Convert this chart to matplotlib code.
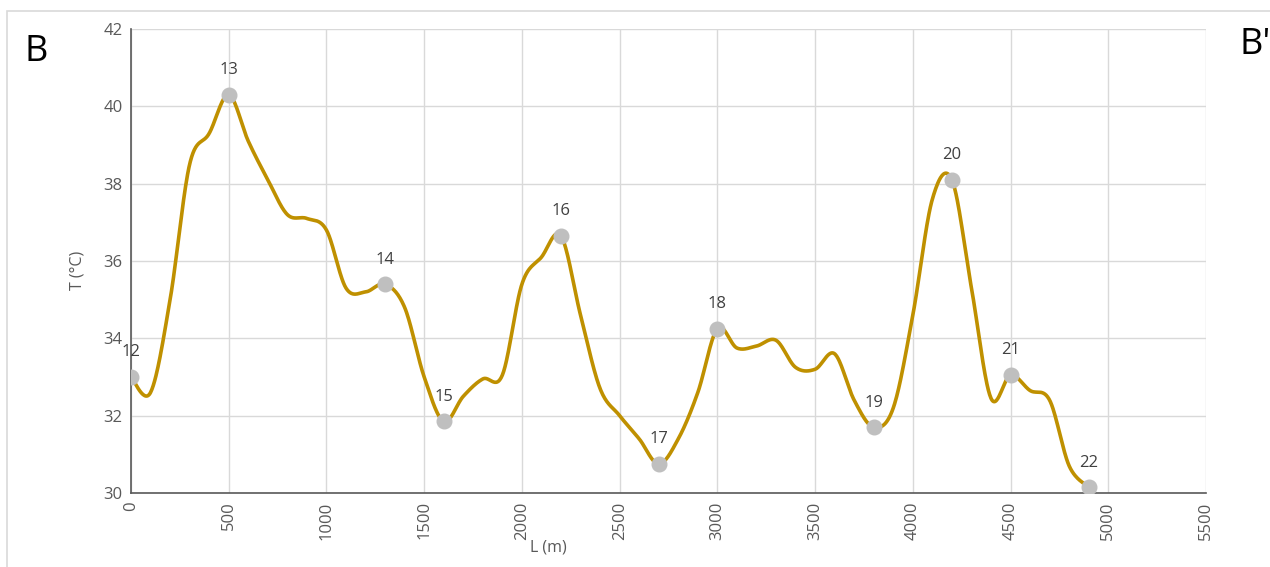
import numpy as np
import matplotlib
matplotlib.use("Agg")
import matplotlib.pyplot as plt
from matplotlib.patches import Rectangle

# distance along the profile (m) and temperature (deg C), one reading every 100 m
distance = list(range(0, 5000, 100))
temperature = [33.0, 32.6, 35.0, 38.5, 39.3, 40.3, 39.1, 38.1, 37.2, 37.1,
               36.8, 35.3, 35.2, 35.4, 34.8, 33.0, 31.85, 32.5, 32.95, 33.05,
               35.4, 36.1, 36.65, 34.6, 32.7, 32.0, 31.4, 30.75, 31.4, 32.6,
               34.25, 33.75, 33.8, 33.95, 33.25, 33.2, 33.6, 32.4, 31.7, 32.2,
               34.6, 37.6, 38.1, 35.3, 32.45, 33.05, 32.65, 32.4, 30.7, 30.15]

# sampling stations shown as markers
station_x = [0, 500, 1300, 1600, 2200, 2700, 3000, 3800, 4200, 4500, 4900]
station_id = ["12", "13", "14", "15", "16", "17", "18", "19", "20", "21", "22"]

x_ticks = list(range(0, 5501, 500))
y_ticks = list(range(30, 43, 2))

LINE = "#BF9000"
MARK = "#BFBFBF"
TXT = "#595959"


def smooth(xs, ys, n=30):
    """Excel-like smoothed line: cubic Bezier with Catmull-Rom control points."""
    xs = np.asarray(xs, float)
    ys = np.asarray(ys, float)
    px = np.concatenate([[xs[0]], xs, [xs[-1]]])
    py = np.concatenate([[ys[0]], ys, [ys[-1]]])
    t = np.linspace(0, 1, n)[:, None]
    outx, outy = [], []
    for i in range(1, len(px) - 2):
        p0 = np.array([px[i], py[i]])
        p3 = np.array([px[i + 1], py[i + 1]])
        p1 = p0 + (np.array([px[i + 1], py[i + 1]]) - np.array([px[i - 1], py[i - 1]])) / 6
        p2 = p3 - (np.array([px[i + 2], py[i + 2]]) - p0) / 6
        b = ((1 - t) ** 3) * p0 + 3 * ((1 - t) ** 2) * t * p1 + 3 * (1 - t) * t ** 2 * p2 + t ** 3 * p3
        outx.append(b[:, 0])
        outy.append(b[:, 1])
    return np.concatenate(outx), np.concatenate(outy)


plt.rcParams["font.family"] = ["Open Sans", "DejaVu Sans"]

fig = plt.figure(figsize=(12.7, 5.67), dpi=100)
ax = fig.add_axes([131 / 1270, 1 - 493 / 567, (1206 - 131) / 1270, (493 - 29) / 567])

# outer chart border
fig.patches.append(Rectangle((7 / 1270, -0.01), 1.1, 1 - 11 / 567 + 0.01,
                             transform=fig.transFigure, fill=False,
                             edgecolor="#D9D9D9", lw=1.2))

sx, sy = smooth(distance, temperature)
ax.plot(sx, sy, color=LINE, lw=2.6, zorder=3, solid_capstyle="round")

temp_at = dict(zip(distance, temperature))
for xv, lab in zip(station_x, station_id):
    yv = temp_at[xv]
    ax.plot(xv, yv, "o", ms=10.5, color=MARK, zorder=4)
    ax.annotate(lab, (xv, yv), textcoords="offset points", xytext=(0, 12),
                ha="center", va="bottom", fontsize=12, color="#404040")

ax.set_xlim(0, 5500)
ax.set_ylim(30, 42)
ax.set_xticks(x_ticks)
ax.set_yticks(y_ticks)
ax.set_xticklabels([str(v) for v in x_ticks], rotation=90)
ax.tick_params(length=0, labelsize=12, labelcolor=TXT, pad=6)
ax.grid(True, color="#D9D9D9", lw=1)
ax.set_axisbelow(True)
for s in ["top", "right"]:
    ax.spines[s].set_visible(False)
for s in ["left", "bottom"]:
    ax.spines[s].set_color("#595959")
    ax.spines[s].set_linewidth(1.2)

fig.text(78 / 1270, 1 - 270 / 567, "T (°C)", rotation=90, ha="center", va="center",
         fontsize=11.5, color=TXT)
fig.text(548 / 1270, 1 - 548 / 567, "L (m)", ha="center", va="center",
         fontsize=11.5, color=TXT)
fig.text(36 / 1270, 1 - 52 / 567, "B", ha="center", va="center", fontsize=26)
fig.text(1255 / 1270, 1 - 45 / 567, "B'", ha="center", va="center", fontsize=26)

fig.savefig("out.png", dpi=100)
